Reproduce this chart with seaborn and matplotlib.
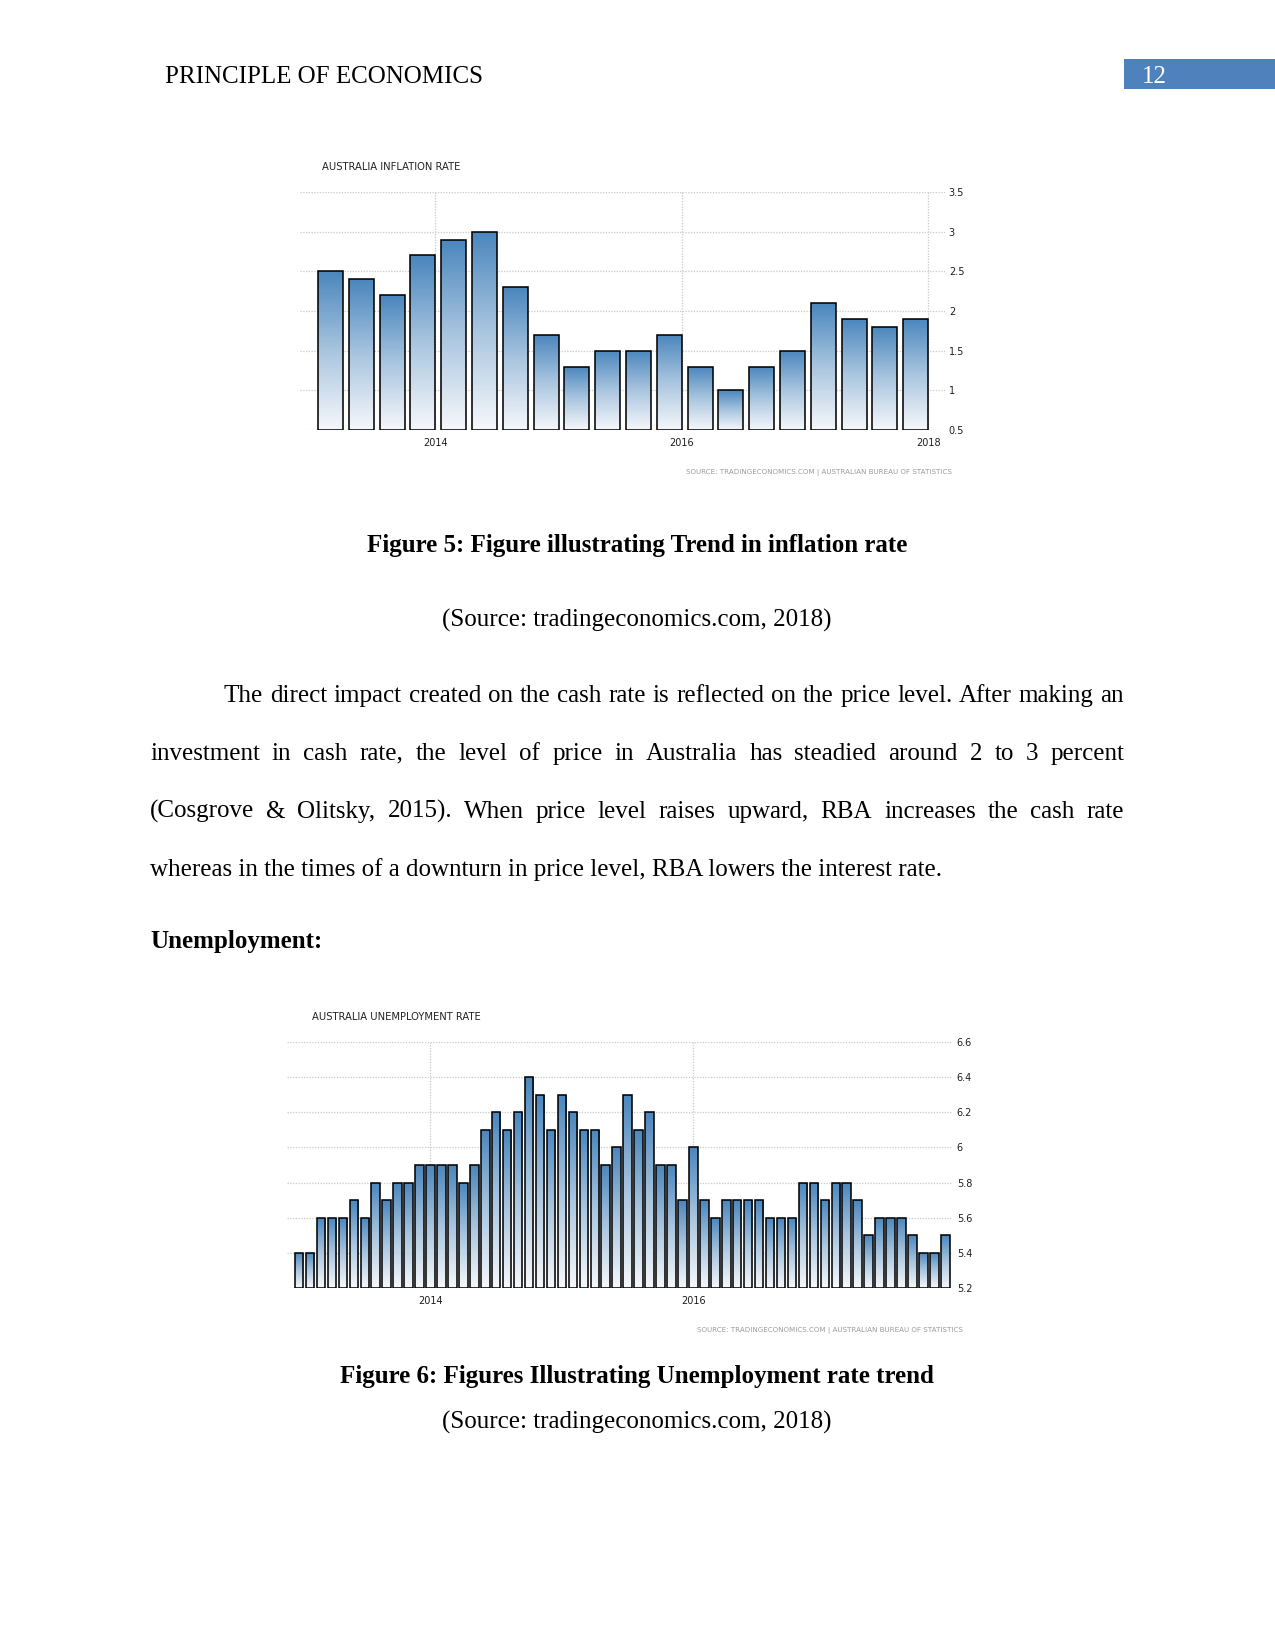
import numpy as np
import pandas as pd
import matplotlib
matplotlib.use("Agg")
import matplotlib.pyplot as plt
import seaborn as sns
from matplotlib.colors import LinearSegmentedColormap

# ---------------- data ----------------
infl_quarters = ["2013Q1", "2013Q2", "2013Q3", "2013Q4",
                 "2014Q1", "2014Q2", "2014Q3", "2014Q4",
                 "2015Q1", "2015Q2", "2015Q3", "2015Q4",
                 "2016Q1", "2016Q2", "2016Q3", "2016Q4",
                 "2017Q1", "2017Q2", "2017Q3", "2017Q4"]
infl_values = [2.5, 2.4, 2.2, 2.7, 2.9, 3.0, 2.3, 1.7, 1.3, 1.5,
               1.5, 1.7, 1.3, 1.0, 1.3, 1.5, 2.1, 1.9, 1.8, 1.9]
infl_yticks = [0.5, 1.0, 1.5, 2.0, 2.5, 3.0, 3.5]
infl_ytick_labels = ["0.5", "1", "1.5", "2", "2.5", "3", "3.5"]
infl_year_bars = [3, 11, 19]          # bar whose right edge meets the year line
infl_year_labels = ["2014", "2016", "2018"]

unemp_years = [2013, 2014, 2015, 2016, 2017]
unemp_months = [f"{y}-{m:02d}" for y in unemp_years for m in range(1, 13)]
unemp_values = [5.4, 5.4, 5.6, 5.6, 5.6, 5.7, 5.6, 5.8, 5.7, 5.8, 5.8, 5.9,
                5.9, 5.9, 5.9, 5.8, 5.9, 6.1, 6.2, 6.1, 6.2, 6.4, 6.3, 6.1,
                6.3, 6.2, 6.1, 6.1, 5.9, 6.0, 6.3, 6.1, 6.2, 5.9, 5.9, 5.7,
                6.0, 5.7, 5.6, 5.7, 5.7, 5.7, 5.7, 5.6, 5.6, 5.6, 5.8, 5.8,
                5.7, 5.8, 5.8, 5.7, 5.5, 5.6, 5.6, 5.6, 5.5, 5.4, 5.4, 5.5]
unemp_yticks = [5.2, 5.4, 5.6, 5.8, 6.0, 6.2, 6.4, 6.6]
unemp_ytick_labels = ["5.2", "5.4", "5.6", "5.8", "6", "6.2", "6.4", "6.6"]
unemp_year_bars = [12, 36]
unemp_year_labels = ["2014", "2016"]

header_text = "PRINCIPLE OF ECONOMICS"
page_number = "12"
title1 = "AUSTRALIA INFLATION RATE"
title2 = "AUSTRALIA UNEMPLOYMENT RATE"
source_chart = "SOURCE: TRADINGECONOMICS.COM | AUSTRALIAN BUREAU OF STATISTICS"
caption1 = "Figure 5: Figure illustrating Trend in inflation rate"
caption2 = "Figure 6: Figures Illustrating Unemployment rate trend"
source_caption = "(Source: tradingeconomics.com, 2018)"
para_lines = [
    "The direct impact created on the cash rate is reflected on the price level. After making an",
    "investment in cash rate, the level of price in Australia has steadied around 2 to 3 percent",
    "(Cosgrove & Olitsky, 2015). When price level raises upward, RBA increases the cash rate",
    "whereas in the times of a downturn in price level, RBA lowers the interest rate.",
]
heading = "Unemployment:"

# ---------------- style ----------------
sns.set_style("white")
plt.rcParams["font.family"] = ["DejaVu Sans"]
plt.rcParams["text.color"] = "black"
SERIF = ["Liberation Serif", "DejaVu Serif"]
W, H = 1275, 1650
fig = plt.figure(figsize=(W / 150, H / 150), dpi=150)
fig.patch.set_facecolor("white")


def fx(x):
    return x / W


def fy(y):
    return 1 - y / H


def axes_px(left, top, right, bottom):
    return fig.add_axes([fx(left), fy(bottom), (right - left) / W, (bottom - top) / H])


cmap = LinearSegmentedColormap.from_list("te", ["#f6f8fb", "#a9c5df", "#4a86bd"])
grad = np.linspace(0, 1, 256).reshape(-1, 1)


def te_bars(ax, cats, vals, base, width, yticks, yticklabels, year_pos, year_labels, xlim, ylim):
    df = pd.DataFrame({"cat": cats, "val": vals})
    sns.barplot(data=df, x="cat", y="val", order=cats, ax=ax, width=width,
                color="#4a86bd", saturation=1, errorbar=None)
    for p in list(ax.patches):
        x0, w = p.get_x(), p.get_width()
        top = p.get_y() + p.get_height()
        p.set_y(base)
        p.set_height(top - base)
        p.set_facecolor("none")
        p.set_edgecolor("black")
        p.set_linewidth(0.75)
        p.set_zorder(3)
        im = ax.imshow(grad, extent=[x0, x0 + w, base, top], origin="lower",
                       aspect="auto", cmap=cmap, zorder=2, interpolation="bilinear")
        im.set_clip_path(p)
    ax.set_xlabel("")
    ax.set_ylabel("")
    ax.set_xticks(year_pos, year_labels)
    ax.set_yticks(yticks, yticklabels)
    ax.yaxis.tick_right()
    ax.tick_params(axis="both", length=0, labelsize=4.7, colors="#1e1e1e")
    ax.tick_params(axis="x", pad=4)
    ax.tick_params(axis="y", pad=1.8)
    for lab in ax.get_yticklabels():
        lab.set_horizontalalignment("left")
    ax.set_axisbelow(True)
    ax.grid(True, axis="both", linestyle=(0, (1, 1.2)), color="#c9c9c9", linewidth=0.6)
    for s in ax.spines.values():
        s.set_visible(False)
    ax.set_xlim(*xlim)
    ax.set_ylim(*ylim)
    ax.set_facecolor("white")


# ---------------- chart 1: inflation ----------------
ax1 = axes_px(300, 192, 945, 430)
w1 = 0.81
te_bars(ax1, infl_quarters, infl_values, 0.5, w1, infl_yticks, infl_ytick_labels,
        [b + w1 / 2 for b in infl_year_bars], infl_year_labels, (-0.99, 19.95), (0.5, 3.5))
fig.text(fx(322), fy(167), title1, fontsize=4.8, color="#222222", va="center", ha="left")
fig.text(fx(952), fy(472), source_chart, fontsize=3.4, color="#9a9a9a", va="center", ha="right")

# ---------------- chart 2: unemployment ----------------
ax2 = axes_px(287, 1042, 953, 1288)
te_bars(ax2, unemp_months, unemp_values, 5.2, 0.78, unemp_yticks, unemp_ytick_labels,
        unemp_year_bars, unemp_year_labels, (-1.1, 59.7), (5.2, 6.6))
fig.text(fx(312), fy(1017), title2, fontsize=4.8, color="#222222", va="center", ha="left")
fig.text(fx(963), fy(1331), source_chart, fontsize=3.4, color="#9a9a9a", va="center", ha="right")

# ---------------- page text ----------------
fig.text(fx(165), fy(83), header_text, fontsize=12, family=SERIF, va="baseline", ha="left")
fig.patches.append(plt.Rectangle((fx(1124), fy(89)), (1275 - 1124) / W, 30 / H,
                                 transform=fig.transFigure, facecolor="#4f81bd",
                                 edgecolor="none", figure=fig))
fig.text(fx(1142), fy(83), page_number, fontsize=12, family=SERIF, color="white",
         va="baseline", ha="left")

fig.text(fx(637), fy(552), caption1, fontsize=12, family=SERIF, weight="bold",
         va="baseline", ha="center")
fig.text(fx(637), fy(627), source_caption, fontsize=12, family=SERIF,
         va="baseline", ha="center")

renderer = fig.canvas.get_renderer()


def justified_line(text, x0, x1, y, indent=0):
    words = text.split()
    arts = [fig.text(0, 0, wd, fontsize=12, family=SERIF, va="baseline", ha="left")
            for wd in words]
    widths = [a.get_window_extent(renderer).width for a in arts]
    start = x0 + indent
    gap = (x1 - start - sum(widths)) / (len(words) - 1)
    x = start
    for a, wdt in zip(arts, widths):
        a.set_position((fx(x), fy(y)))
        x += wdt + gap


baselines = [702, 760, 818, 876]
justified_line(para_lines[0], 150, 1124, baselines[0], indent=74)
justified_line(para_lines[1], 150, 1124, baselines[1])
justified_line(para_lines[2], 150, 1124, baselines[2])
fig.text(fx(150), fy(baselines[3]), para_lines[3], fontsize=12, family=SERIF,
         va="baseline", ha="left")

fig.text(fx(150), fy(948), heading, fontsize=12, family=SERIF, weight="bold",
         va="baseline", ha="left")

fig.text(fx(637), fy(1383), caption2, fontsize=12, family=SERIF, weight="bold",
         va="baseline", ha="center")
fig.text(fx(637), fy(1429), source_caption, fontsize=12, family=SERIF,
         va="baseline", ha="center")

fig.savefig("out.png", dpi=150, facecolor="white")
